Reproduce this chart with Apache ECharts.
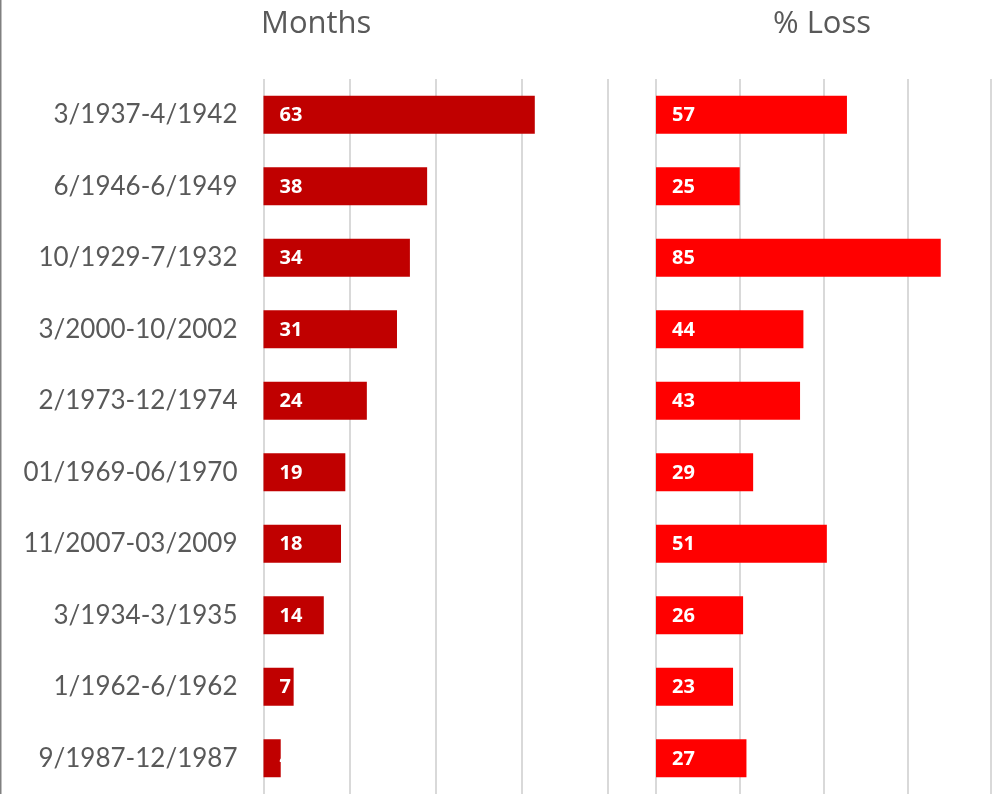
<!DOCTYPE html>
<html>
<head>
<meta charset="utf-8">
<script src="https://cdn.jsdelivr.net/npm/echarts@6/dist/echarts.min.js"></script>
<style>
html,body{margin:0;padding:0;background:#fff;}
#chart{width:995px;height:794px;}
</style>
</head>
<body>
<div id="chart"></div>
<script>
const categories = ['3/1937-4/1942','6/1946-6/1949','10/1929-7/1932','3/2000-10/2002','2/1973-12/1974','01/1969-06/1970','11/2007-03/2009','3/1934-3/1935','1/1962-6/1962','9/1987-12/1987'];
const months = [63,38,34,31,24,19,18,14,7,4];
const lossPct = [57,25,85,44,43,29,51,26,23,27];
const titles = ['Months','% Loss'];

const chart = echarts.init(document.getElementById('chart'));
const font = 'Lato, "Open Sans", sans-serif';
const labelStyle = {show:true, position:'insideLeft', distance:16, offset:[0,1], color:'#fff', fontWeight:'bold', fontSize:20, fontFamily:'"Open Sans", Lato, sans-serif'};
chart.setOption({
  animation:false,
  backgroundColor:'#fff',
  graphic:[
    {type:'rect', shape:{x:0,y:0,width:1.5,height:794}, style:{fill:'#808080'}},
    {type:'text', left:261, top:9, style:{text:titles[0], fontSize:31, fill:'#595959', fontFamily:'"Open Sans", sans-serif'}},
    {type:'text', left:773, top:9, style:{text:titles[1], fontSize:31, fill:'#595959', fontFamily:'"Open Sans", sans-serif'}}
  ],
  grid:[
    {left:263.5, width:344.5, top:79, height:720},
    {left:656, width:335, top:79, height:720}
  ],
  xAxis:[
    {gridIndex:0, type:'value', min:0, max:80, interval:20, axisLabel:{show:false}, axisLine:{show:false}, axisTick:{show:false}, splitLine:{lineStyle:{color:'#d9d9d9', width:2}}},
    {gridIndex:1, type:'value', min:0, max:100, interval:25, axisLabel:{show:false}, axisLine:{show:false}, axisTick:{show:false}, splitLine:{lineStyle:{color:'#d9d9d9', width:2}}}
  ],
  yAxis:[
    {gridIndex:0, type:'category', data:categories, inverse:true, axisLine:{show:false}, axisTick:{show:false}, axisLabel:{color:'#595959', fontSize:26, fontFamily:font, margin:26}},
    {gridIndex:1, type:'category', data:categories, inverse:true, axisLine:{show:false}, axisTick:{show:false}, axisLabel:{show:false}}
  ],
  series:[
    {type:'bar', xAxisIndex:0, yAxisIndex:0, data:months, barWidth:38, itemStyle:{color:'#C00000'}, label:labelStyle},
    {type:'bar', xAxisIndex:1, yAxisIndex:1, data:lossPct, barWidth:38, itemStyle:{color:'#FF0000'}, label:labelStyle}
  ]
});
</script>
</body>
</html>
